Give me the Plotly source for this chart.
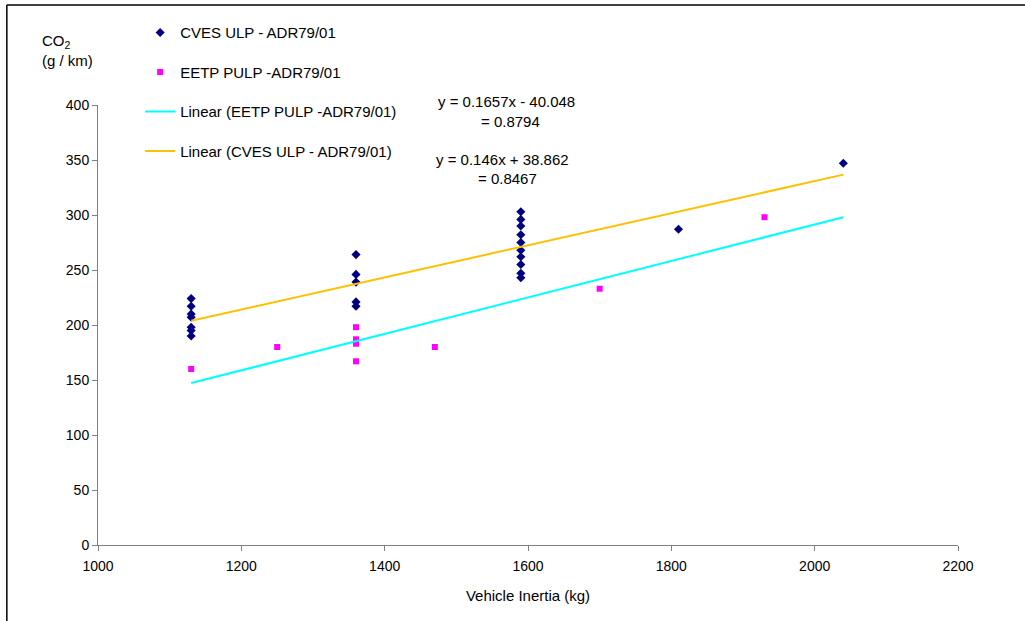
import plotly.graph_objects as go

# CVES ULP - ADR79/01 (diamonds)
cves_x = [1130]*7 + [1360]*5 + [1590]*10 + [1810, 2040]
cves_y = [224, 217, 210, 207, 198, 195, 190,
          264, 246, 239, 221, 217,
          303, 296, 290, 282, 275, 268, 262, 255, 247, 243,
          287, 347]

# EETP PULP -ADR79/01 (squares)
eetp_x = [1130, 1250, 1360, 1360, 1360, 1360, 1470, 1700, 1930]
eetp_y = [160, 180, 198, 187, 183, 167, 180, 233, 298]

# Trendline coefficients (from chart equations)
eetp_slope, eetp_icpt, eetp_r2 = 0.1657, -40.048, 0.8794
cves_slope, cves_icpt, cves_r2 = 0.146, 38.862, 0.8467

x_ticks = [1000, 1200, 1400, 1600, 1800, 2000, 2200]
y_ticks = [0, 50, 100, 150, 200, 250, 300, 350, 400]

FONT = "Liberation Sans, Arial, sans-serif"

# trendlines span the full x range of all data in the chart
x_lo = min(cves_x + eetp_x)
x_hi = max(cves_x + eetp_x)

def trend(m, b):
    return [x_lo, x_hi], [m*x_lo + b, m*x_hi + b]

fig = go.Figure()
fig.add_trace(go.Scatter(x=cves_x, y=cves_y, mode="markers", name="CVES ULP - ADR79/01",
                         legendgroup="a",
                         marker=dict(symbol="diamond", size=7, color="#000080")))
fig.add_trace(go.Scatter(x=eetp_x, y=eetp_y, mode="markers", name="EETP PULP -ADR79/01",
                         legendgroup="b",
                         marker=dict(symbol="square", size=6, color="#FF00FF")))
ex, ey = trend(eetp_slope, eetp_icpt)
fig.add_trace(go.Scatter(x=ex, y=ey, mode="lines", name="Linear (EETP PULP -ADR79/01)",
                         legendgroup="c", line=dict(color="#00FFFF", width=2)))
cx, cy = trend(cves_slope, cves_icpt)
fig.add_trace(go.Scatter(x=cx, y=cy, mode="lines", name="Linear (CVES ULP - ADR79/01)",
                         legendgroup="d", line=dict(color="#FFC000", width=2)))

axis_common = dict(showgrid=False, zeroline=False, showline=True, linecolor="#808080",
                   linewidth=1, ticks="outside", ticklen=5, tickcolor="#808080",
                   tickfont=dict(family=FONT, size=14, color="black"))

fig.update_xaxes(range=[1000, 2200], tickvals=x_ticks, ticklabelstandoff=3, **axis_common,
                 title=dict(text="Vehicle Inertia (kg)", font=dict(family=FONT, size=15, color="black"),
                            standoff=17))
fig.update_yaxes(range=[0, 400], tickvals=y_ticks, **axis_common)

annots = [
    dict(text="CO<sub>2</sub><br>(g / km)", x=-0.068, y=1.123, xanchor="left",
         align="left"),
    dict(text=f"y = {eetp_slope}x - {abs(eetp_icpt):.3f}", x=0.475, y=1.009),
    dict(text=f"= {eetp_r2}", x=0.4797, y=0.963),
    dict(text=f"y = {cves_slope}x + {cves_icpt}", x=0.4698, y=0.877),
    dict(text=f"= {cves_r2}", x=0.476, y=0.832),
]
for a in annots:
    d = dict(xref="paper", yref="paper", showarrow=False, xanchor="center", yanchor="middle",
             font=dict(family=FONT, size=15, color="black"))
    d.update(a)
    fig.add_annotation(**d)

# outer frame (top & left edges visible)
fig.add_shape(type="line", xref="paper", yref="paper", x0=-0.106, x1=1.2, y0=1.227, y1=1.227,
              line=dict(color="black", width=1.5))
fig.add_shape(type="line", xref="paper", yref="paper", x0=-0.106, x1=-0.106, y0=1.227, y1=-0.2,
              line=dict(color="black", width=1.5))

fig.update_layout(
    width=1025, height=621,
    margin=dict(l=98, r=67, t=105, b=76),
    paper_bgcolor="white", plot_bgcolor="white",
    font=dict(family=FONT, size=15, color="black"),
    legend=dict(x=0.049, y=1.2016, xanchor="left", yanchor="top", tracegroupgap=17,
                bgcolor="rgba(0,0,0,0)", font=dict(family=FONT, size=15, color="black")),
    showlegend=True,
)

fig.write_html("out.html")
